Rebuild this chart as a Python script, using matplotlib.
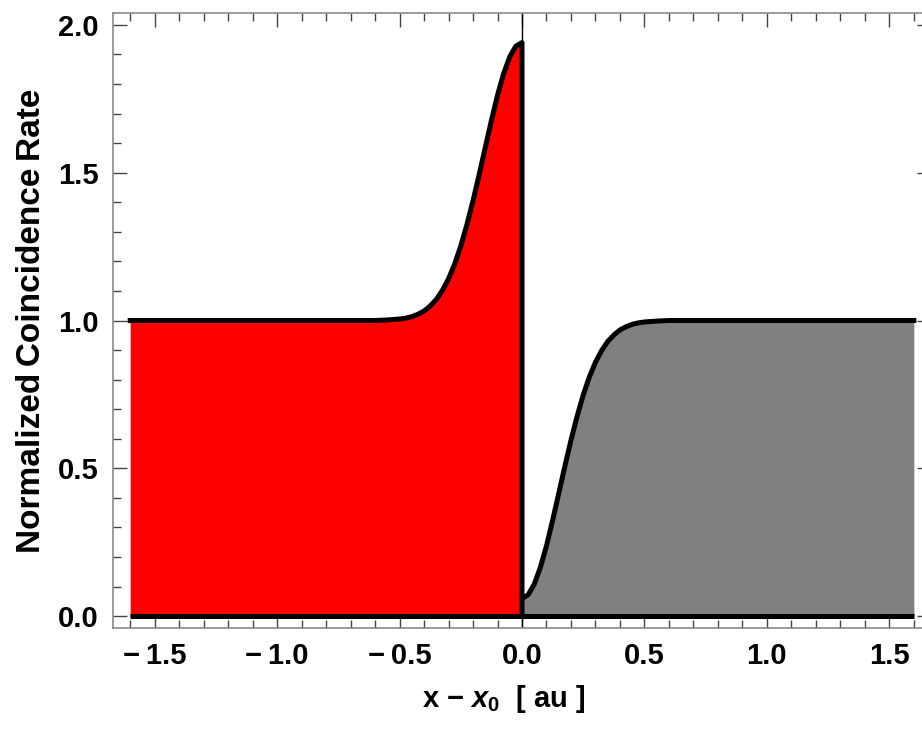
import matplotlib
matplotlib.use("Agg")
import matplotlib.pyplot as plt
from matplotlib.ticker import MultipleLocator

plt.rcParams["font.family"] = ["Liberation Sans", "DejaVu Sans"]
plt.rcParams["mathtext.fontset"] = "custom"
plt.rcParams["mathtext.rm"] = "Liberation Sans:bold"
plt.rcParams["mathtext.it"] = "Liberation Sans:bold:italic"
plt.rcParams["mathtext.bf"] = "Liberation Sans:bold"

# left branch (x < 0)
left_x = [-1.6, -0.8, -0.6, -0.55, -0.5, -0.475, -0.45, -0.425, -0.4, -0.375,
          -0.35, -0.325, -0.3, -0.275, -0.25, -0.225, -0.2, -0.175, -0.15,
          -0.125, -0.1, -0.075, -0.05, -0.025, 0.0]
left_y = [1.0, 1.0, 1.0, 1.002, 1.005, 1.008, 1.013, 1.021, 1.032, 1.049,
          1.071, 1.102, 1.141, 1.191, 1.252, 1.324, 1.405, 1.493, 1.585,
          1.676, 1.762, 1.835, 1.892, 1.928, 1.94]

# right branch (x > 0)
right_x = [0.0, 0.025, 0.05, 0.075, 0.1, 0.125, 0.15, 0.175, 0.2, 0.225,
           0.25, 0.275, 0.3, 0.325, 0.35, 0.375, 0.4, 0.425, 0.45, 0.475,
           0.5, 0.55, 0.6, 0.8, 1.6]
right_y = [0.06, 0.072, 0.108, 0.165, 0.238, 0.324, 0.415, 0.507, 0.595, 0.676,
           0.748, 0.809, 0.859, 0.898, 0.929, 0.951, 0.968, 0.979, 0.987, 0.992,
           0.995, 0.998, 1.0, 1.0, 1.0]

x_ticks = [-1.5, -1.0, -0.5, 0.0, 0.5, 1.0, 1.5]
x_tick_labels = ["\u2212\u20091.5", "\u2212\u20091.0", "\u2212\u20090.5", "0.0", "0.5", "1.0", "1.5"]
y_ticks = [0.0, 0.5, 1.0, 1.5, 2.0]
y_tick_labels = ["0.0", "0.5", "1.0", "1.5", "2.0"]

fig = plt.figure(figsize=(9.22, 7.29), dpi=100)
ax = fig.add_axes([113 / 922, 101 / 729, 818 / 922, 615 / 729])

ax.fill_between(left_x, 0, left_y, color="#ff0000", linewidth=0)
ax.fill_between(right_x, 0, right_y, color="#808080", linewidth=0)

# thin axis line at x = 0
ax.axvline(0, color="black", linewidth=1.0, zorder=2)

lw = 3.6
ax.plot(left_x + [0.0, 0.0], left_y + [left_y[-1], 0.0], color="black",
        linewidth=lw, solid_joinstyle="round", zorder=3)
ax.plot(right_x, right_y, color="black", linewidth=lw, zorder=3)
ax.plot([left_x[0], right_x[-1]], [0, 0], color="black", linewidth=lw,
        solid_capstyle="butt", zorder=3)

ax.set_xlim(-1.67, 1.67)
ax.set_ylim(-0.04, 2.04)

ax.set_xticks(x_ticks)
ax.set_xticklabels(x_tick_labels)
ax.set_yticks(y_ticks)
ax.set_yticklabels(y_tick_labels)
ax.xaxis.set_minor_locator(MultipleLocator(0.1))
ax.yaxis.set_minor_locator(MultipleLocator(0.1))

ax.tick_params(which="both", direction="in", top=True, right=True,
               color="#444444", width=1.0)
ax.tick_params(which="major", length=10, labelsize=21, pad=10)
ax.tick_params(which="minor", length=6)
for lab in ax.get_xticklabels() + ax.get_yticklabels():
    lab.set_fontweight("bold")

for sp in ax.spines.values():
    sp.set_color("#8a8a8a")
    sp.set_linewidth(1.2)

ax.set_ylabel("Normalized\u2009Coincidence\u2009Rate", fontsize=24,
              fontweight="bold", labelpad=8)
ax.set_xlabel("x \u2212 $x_0$  [ au ]", fontsize=21, fontweight="bold")
ax.xaxis.set_label_coords(0.478, -0.09)

fig.savefig("out.png", dpi=100)
